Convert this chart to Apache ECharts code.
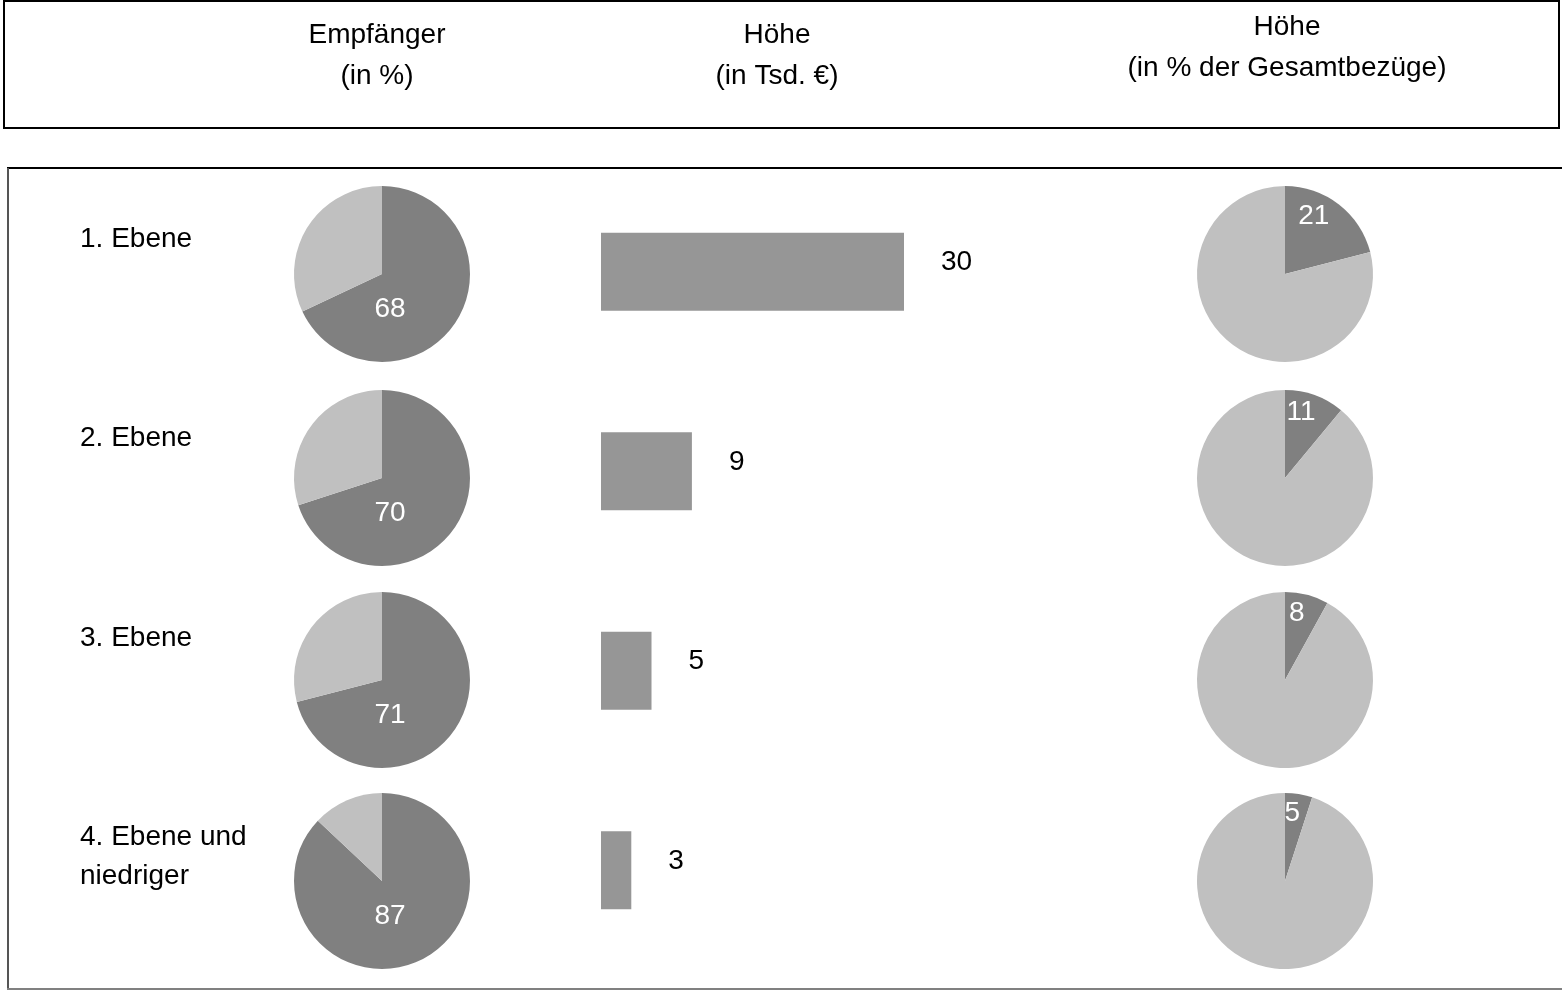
<!DOCTYPE html>
<html>
<head>
<meta charset="utf-8">
<script src="https://cdn.jsdelivr.net/npm/echarts@6/dist/echarts.min.js"></script>
<style>
  html, body { margin: 0; padding: 0; background: #fff; }
  #chart { width: 1562px; height: 990px; }
</style>
</head>
<body>
<div id="chart"></div>
<script>
// Management levels (rows)
const categories = ['1. Ebene', '2. Ebene', '3. Ebene', '4. Ebene und\nniedriger'];
// Share of recipients per level (in %)
const recipientsPct = [68, 70, 71, 87];
// Average amount (in Tsd. €)
const amountTsdEur = [30, 9, 5, 3];
// Amount as share of total remuneration (in %)
const shareOfTotalPct = [21, 11, 8, 5];
// Column headings
const headerLabels = ['Empfänger\n(in %)', 'Höhe\n(in Tsd. €)', 'Höhe\n(in % der Gesamtbezüge)'];

const FONT = "'Liberation Sans Narrow', 'Arial Narrow', 'Liberation Sans', Arial, sans-serif";
const FS = 28;
const DARK = '#808080';
const LIGHT = '#c0c0c0';
const BAR = '#969696';

const chart = echarts.init(document.getElementById('chart'));

// Pie layout: column x positions, row y positions, radius
const pieLeftX = 382;
const pieRightX = 1285;
const pieRowY = [274, 478, 680, 881];
const pieR = 88;

function pieSeries(values, cx, rowIdx, labelPos, labelShift) {
  return {
    type: 'pie',
    silent: true,
    center: [cx, pieRowY[rowIdx]],
    radius: pieR,
    startAngle: 90,
    clockwise: true,
    avoidLabelOverlap: false,
    labelLine: { show: false },
    label: {
      show: true, position: labelPos, formatter: '{c}',
      color: '#fff', fontSize: FS, fontFamily: FONT
    },
    labelLayout: labelShift,
    data: [
      { value: values[rowIdx], itemStyle: { color: DARK } },
      { value: 100 - values[rowIdx], itemStyle: { color: LIGHT }, label: { show: false } }
    ]
  };
}

const series = [];

// Bars: amount in Tsd. €
series.push({
  type: 'bar',
  xAxisIndex: 0,
  yAxisIndex: 0,
  silent: true,
  barWidth: 78,
  itemStyle: { color: BAR },
  label: {
    show: true,
    position: 'right',
    distance: 37,
    offset: [0, -9],
    color: '#000',
    fontSize: FS,
    fontFamily: FONT
  },
  data: amountTsdEur
});

categories.forEach((c, i) => {
  // recipients: label below the centre, slightly right
  series.push(pieSeries(recipientsPct, pieLeftX, i, 'center', { dx: 8, dy: 35 }));
  // share of total: label near the top of the small slice
  series.push(pieSeries(shareOfTotalPct, pieRightX, i, 'inside', { dx: 0, dy: -21 }));
});

const headerX = [377, 777, 1287];
const headerTop = [15, 15, 7];

const option = {
  animation: false,
  backgroundColor: '#fff',
  grid: [
    // bar area
    { left: 601, right: 557, top: 172, height: 798 },
    // row label area (shifted up so labels sit above the row centre)
    { left: 600, right: 557, top: 120, height: 798 }
  ],
  xAxis: [
    { gridIndex: 0, type: 'value', min: 0, max: 40, show: false },
    { gridIndex: 1, type: 'value', min: 0, max: 40, show: false }
  ],
  yAxis: [
    {
      gridIndex: 0, type: 'category', inverse: true, data: categories,
      axisLine: { show: false }, axisTick: { show: false }, axisLabel: { show: false },
      splitLine: { show: false }
    },
    {
      gridIndex: 1, type: 'category', inverse: true, data: categories,
      axisLine: { show: false }, axisTick: { show: false }, splitLine: { show: false },
      axisLabel: {
        show: true, interval: 0, align: 'left', verticalAlign: 'top',
        margin: 520, color: '#000', fontSize: FS, lineHeight: 39, fontFamily: FONT
      }
    }
  ],
  series: series,
  graphic: [
    // header frame
    {
      type: 'rect', silent: true, z: 10,
      shape: { x: 4, y: 1, width: 1555, height: 127 },
      style: { fill: 'none', stroke: '#000', lineWidth: 2 }
    },
    // body frame (open on the right)
    {
      type: 'line', silent: true, z: 10,
      shape: { x1: 7, y1: 168, x2: 1562, y2: 168 },
      style: { stroke: '#000', lineWidth: 2 }
    },
    {
      type: 'line', silent: true, z: 10,
      shape: { x1: 8, y1: 168, x2: 8, y2: 989 },
      style: { stroke: '#555', lineWidth: 2 }
    },
    {
      type: 'line', silent: true, z: 10,
      shape: { x1: 7, y1: 989, x2: 1562, y2: 989 },
      style: { stroke: '#808080', lineWidth: 2 }
    }
  ].concat(headerLabels.map((t, i) => ({
    type: 'text', silent: true, z: 10,
    x: headerX[i], y: headerTop[i],
    style: {
      text: t, align: 'center', verticalAlign: 'top',
      fontSize: FS, lineHeight: 41, fontFamily: FONT, fill: '#000'
    }
  })))
};

chart.setOption(option);
</script>
</body>
</html>
